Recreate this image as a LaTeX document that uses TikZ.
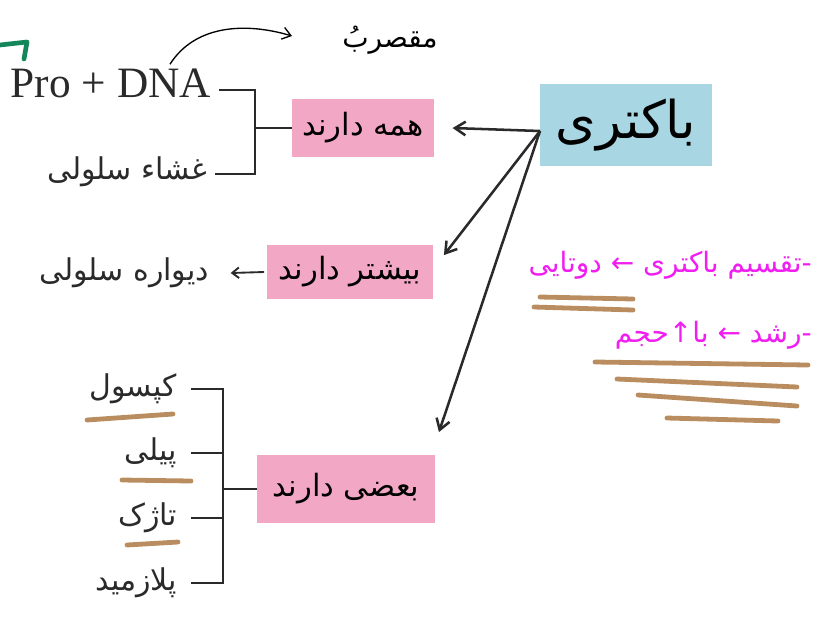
\documentclass[tikz,border=0pt]{standalone}
\usepackage{fontspec}
\usetikzlibrary{arrows.meta,calc}
\newfontfamily\fa[Script=Arabic]{DejaVu Sans}
\newfontfamily\lat{Liberation Serif}
\TeXXeTstate=1
\definecolor{rosa}{HTML}{F2A8C4}
\definecolor{celeste}{HTML}{A8D6E3}
\definecolor{cafe}{HTML}{BA8D60}
\definecolor{fucsia}{HTML}{F01EF0}
\definecolor{verde}{HTML}{14875A}
\definecolor{tinta}{HTML}{2A2A2A}

\begin{document}
\begin{tikzpicture}[x=0.75pt, y=-0.75pt, >={Straight Barb[length=2.8mm,width=3.6mm]},
      caja/.style={fill=rosa, inner sep=0pt, minimum height=43pt,
                   font=\fa\fontsize{23}{26}\selectfont},
      txt/.style={inner sep=2pt, text=tinta, font=\fa\fontsize{22.5}{26}\selectfont},
      brk/.style={draw=tinta, line width=2pt},
      flecha/.style={->, draw=tinta, line width=1.9pt},
      raya/.style={cafe, line width=3.6pt, line cap=round},
      nota/.style={inner sep=0pt, text=fucsia, font=\fa\fontsize{21}{24}\selectfont}]
    \useasboundingbox (0,0) rectangle (827,619);
    % cajas
    \node[fill=celeste, inner sep=0pt, minimum width=129pt, minimum height=61pt,
          font=\fa\fontsize{39}{44}\selectfont] (bak) at (626,125) {\beginR باکتری\endR};
    \node[caja, minimum width=106pt] (hame) at (363,128) {\beginR همه دارند\endR};
    \node[caja, minimum width=124.5pt, minimum height=41pt] (bish) at (350,272) {\beginR بیشتر دارند\endR};
    \node[caja, minimum width=133pt, minimum height=51pt] (baz) at (346,489) {\beginR بعضی دارند\endR};
    % textos
    \node[txt, anchor=east, font=\lat\fontsize{32.5}{36}\selectfont] (pro) at (214,83) {Pro + DNA};
    \node[txt, anchor=east] (ghesha) at (210,172) {\beginR غشاء سلولی\endR};
    \node[txt, anchor=east] (divare) at (212,273) {\beginR دیواره سلولی\endR};
    \node[txt, anchor=east] (kap) at (180,389) {\beginR کپسول\endR};
    \node[txt, anchor=east] (pili) at (180,453) {\beginR پیلی\endR};
    \node[txt, anchor=east] (taz) at (180,518) {\beginR تاژک\endR};
    \node[txt, anchor=east] (plaz) at (180,583) {\beginR پلازمید\endR};
    % llaves
    \coordinate (hs1) at (255,90);
    \coordinate (hs2) at (255,174);
    \draw[brk] ([xshift=4pt]pro.east |- hs1) -- (hs1) -- (hs2) -- ([xshift=4pt]ghesha.east |- hs2);
    \draw[brk] (hs1 |- hame.west) -- (hame.west);
    \coordinate (bs) at (223,0);
    \draw[brk] ([xshift=8pt]kap.east) -- (kap.east -| bs) -- (plaz.east -| bs) -- ([xshift=8pt]plaz.east);
    \draw[brk] ([xshift=8pt]pili.east) -- (pili.east -| bs);
    \draw[brk] ([xshift=8pt]taz.east) -- (taz.east -| bs);
    \draw[brk] (baz.west -| bs) -- (baz.west);
    % flechas
    \coordinate (o) at (540,131);
    \draw[flecha] (o) -- ([xshift=14pt]hame.east);
    \draw[flecha] (o) -- ([xshift=8pt,yshift=-8pt]bish.north east);
    \draw[flecha] (o) -- ([xshift=3pt,yshift=17pt]baz.north east);
    \draw[->, draw=tinta, line width=1.4pt, >={Straight Barb[length=1.8mm,width=2.8mm]}]
      ([xshift=-2pt]bish.west) -- ([xshift=14pt]divare.east);
    % notas a mano
    \coordinate (fin) at (292,36);
    \draw[->, line width=1pt, >={Straight Barb[length=2.2mm,width=3.2mm]}]
      ([xshift=-33pt,yshift=1pt]pro.north east) .. controls (195,25) and (245,22) .. (fin);
    \node[inner sep=0pt, font=\fa\fontsize{21}{24}\selectfont] (mq) at (390,40) {\beginR مقصربُ\endR};
    \draw[verde, line width=3.5pt, line cap=round, line join=round] (0,45) -- (27,42) -- (24,59);
    \node[nota, anchor=east] (n1) at (812,265) {\beginR -تقسیم باکتری ← دوتایی\endR};
    \node[nota, anchor=east] (n2) at (812,335) {\beginR -رشد ← با↑حجم\endR};
    % subrayados
    \draw[raya] (540,297) -- (633,299);
    \draw[raya] (534,307) -- (633,310);
    \draw[raya] (595,362) -- (808,365);
    \draw[raya] (617,379) -- (797,387);
    \draw[raya] (638,395) -- (797,406);
    \draw[raya] (667,418) -- (778,421);
    \draw[raya] (87,420) -- (173,414);
    \draw[raya] (122,480) -- (191,481);
    \draw[raya] (127,545) -- (178,542);
  \end{tikzpicture}
\end{document}
